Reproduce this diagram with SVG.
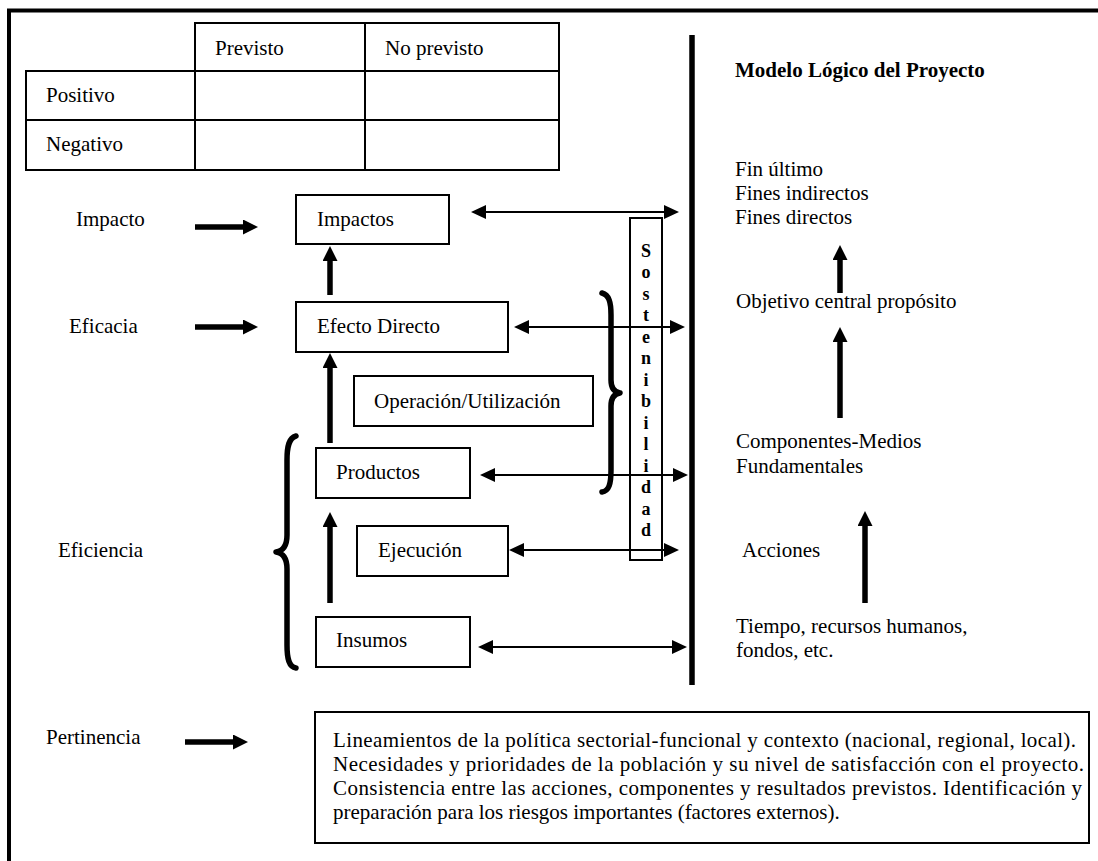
<svg xmlns="http://www.w3.org/2000/svg" width="1098" height="861" viewBox="0 0 1098 861" font-family="'Liberation Serif', 'Times New Roman', Times, 'DejaVu Serif', serif">
<style>
  text { font-family: 'Liberation Serif', 'Times New Roman', Times, 'DejaVu Serif', serif; font-size: 21px; fill: #000; }
  .b { font-weight: bold; }
  .box { fill: #fff; stroke: #000; stroke-width: 2; }
  .tbl { fill: none; stroke: #000; stroke-width: 2; }
  .thin { stroke: #000; stroke-width: 2; fill: none; }
  .thick { stroke: #000; stroke-width: 5.5; fill: none; }
  .brace { stroke: #000; stroke-width: 5.5; fill: none; stroke-linecap: round; stroke-linejoin: round; }
  .sost { font-weight: bold; font-size: 18px; text-anchor: middle; }
</style>
<defs>
  <marker id="hThin" markerUnits="userSpaceOnUse" markerWidth="16" markerHeight="16" refX="0" refY="7" orient="auto-start-reverse">
    <path d="M0,0 L15,7 L0,14 z" fill="#000"/>
  </marker>
  <marker id="hThick" markerUnits="userSpaceOnUse" markerWidth="16" markerHeight="16" refX="0" refY="7.5" orient="auto">
    <path d="M0,0 L15,7.5 L0,15 z" fill="#000"/>
  </marker>
</defs>
<rect width="1098" height="861" fill="#fff"/>

<g id="frame">
  <line x1="7" y1="10.5" x2="1098" y2="10.5" stroke="#000" stroke-width="4"/>
  <line x1="9" y1="9" x2="9" y2="861" stroke="#000" stroke-width="4"/>
  <line x1="692" y1="35" x2="692" y2="685" stroke="#000" stroke-width="5.5"/>
</g>

<g id="tabla">
  <rect class="tbl" x="195" y="23" width="364" height="48"/>
  <rect class="tbl" x="26" y="71" width="533" height="99"/>
  <line class="tbl" x1="26" y1="120" x2="559" y2="120"/>
  <line class="tbl" x1="195" y1="71" x2="195" y2="170"/>
  <line class="tbl" x1="365" y1="23" x2="365" y2="170"/>
  <text x="215" y="55">Previsto</text>
  <text x="385" y="55">No previsto</text>
  <text x="46" y="102">Positivo</text>
  <text x="46" y="151">Negativo</text>
</g>

<g id="labels-left">
  <text x="76" y="226">Impacto</text>
  <text x="69" y="333">Eficacia</text>
  <text x="58" y="557">Eficiencia</text>
  <text x="46" y="744">Pertinencia</text>
</g>

<g id="impactos">
  <rect class="box" x="296" y="195" width="153" height="49"/>
  <text x="317" y="226">Impactos</text>
</g>
<g id="efecto-directo">
  <rect class="box" x="296" y="302" width="212" height="50"/>
  <text x="317" y="333">Efecto Directo</text>
</g>
<g id="operacion">
  <rect class="box" x="354" y="376" width="239" height="50"/>
  <text x="374" y="408">Operación/Utilización</text>
</g>
<g id="productos">
  <rect class="box" x="316" y="448" width="154" height="50"/>
  <text x="336" y="479">Productos</text>
</g>
<g id="ejecucion">
  <rect class="box" x="357" y="526" width="151" height="50"/>
  <text x="378" y="557">Ejecución</text>
</g>
<g id="insumos">
  <rect class="box" x="316" y="617" width="154" height="50"/>
  <text x="336" y="647">Insumos</text>
</g>

<g id="sostenibilidad">
  <rect x="630" y="218" width="32" height="342" fill="none" stroke="#000" stroke-width="2"/>
  <text class="sost" x="646" y="257">S<tspan x="646" dy="21.46">o</tspan><tspan x="646" dy="21.46">s</tspan><tspan x="646" dy="21.46">t</tspan><tspan x="646" dy="21.46">e</tspan><tspan x="646" dy="21.46">n</tspan><tspan x="646" dy="21.46">i</tspan><tspan x="646" dy="21.46">b</tspan><tspan x="646" dy="21.46">i</tspan><tspan x="646" dy="21.46">l</tspan><tspan x="646" dy="21.46">i</tspan><tspan x="646" dy="21.46">d</tspan><tspan x="646" dy="21.46">a</tspan><tspan x="646" dy="21.46">d</tspan></text>
</g>

<g id="modelo-logico">
  <text class="b" x="735" y="77">Modelo Lógico del Proyecto</text>
  <text x="735" y="176">Fin último</text>
  <text x="735" y="200">Fines indirectos</text>
  <text x="735" y="224">Fines directos</text>
  <text x="736" y="308">Objetivo central propósito</text>
  <text x="736" y="448">Componentes-Medios</text>
  <text x="736" y="473">Fundamentales</text>
  <text x="742" y="557">Acciones</text>
  <text x="736" y="633">Tiempo, recursos humanos,</text>
  <text x="736" y="657">fondos, etc.</text>
</g>

<g id="pertinencia-box">
  <rect class="box" x="315" y="712" width="774" height="131"/>
  <text x="333" y="747" textLength="743" lengthAdjust="spacing">Lineamientos de la política sectorial-funcional y contexto (nacional, regional, local).</text>
  <text x="333" y="771" textLength="751" lengthAdjust="spacing">Necesidades y prioridades de la población y su nivel de satisfacción con el proyecto.</text>
  <text x="333" y="795" textLength="749" lengthAdjust="spacing">Consistencia entre las acciones, componentes y resultados previstos. Identificación y</text>
  <text x="333" y="819">preparación para los riesgos importantes (factores externos).</text>
</g>

<g id="braces">
  <path class="brace" d="M296,436 C289,438 287,446 287,460 L287,535 C287,546 283,551 276,552 C283,553 287,558 287,569 L287,645 C287,659 289,667 296,668"/>
  <path class="brace" d="M602,293 C609,295 611,302 611,315 L611,380 C611,388 614,392 620,393 C614,394 611,398 611,406 L611,470 C611,484 609,491 602,492"/>
</g>

<g id="connectors">
  <line class="thick" x1="195" y1="227" x2="243" y2="227" marker-end="url(#hThick)"/>
  <line class="thick" x1="195" y1="327" x2="243" y2="327" marker-end="url(#hThick)"/>
  <line class="thick" x1="185" y1="742" x2="233" y2="742" marker-end="url(#hThick)"/>

  <line class="thick" x1="330" y1="295" x2="330" y2="261" marker-end="url(#hThick)"/>
  <line class="thick" x1="330" y1="443" x2="330" y2="368" marker-end="url(#hThick)"/>
  <line class="thick" x1="330" y1="603" x2="330" y2="527" marker-end="url(#hThick)"/>
  <line class="thick" x1="840" y1="293" x2="840" y2="260" marker-end="url(#hThick)"/>
  <line class="thick" x1="840" y1="418" x2="840" y2="342" marker-end="url(#hThick)"/>
  <line class="thick" x1="865" y1="603" x2="865" y2="526" marker-end="url(#hThick)"/>

  <line class="thin" x1="486" y1="212" x2="664" y2="212" marker-start="url(#hThin)" marker-end="url(#hThin)"/>
  <line class="thin" x1="529" y1="327" x2="670" y2="327" marker-start="url(#hThin)" marker-end="url(#hThin)"/>
  <line class="thin" x1="495" y1="475" x2="673" y2="475" marker-start="url(#hThin)" marker-end="url(#hThin)"/>
  <line class="thin" x1="524" y1="550" x2="664" y2="550" marker-start="url(#hThin)" marker-end="url(#hThin)"/>
  <line class="thin" x1="493" y1="647" x2="672" y2="647" marker-start="url(#hThin)" marker-end="url(#hThin)"/>
</g>
</svg>
